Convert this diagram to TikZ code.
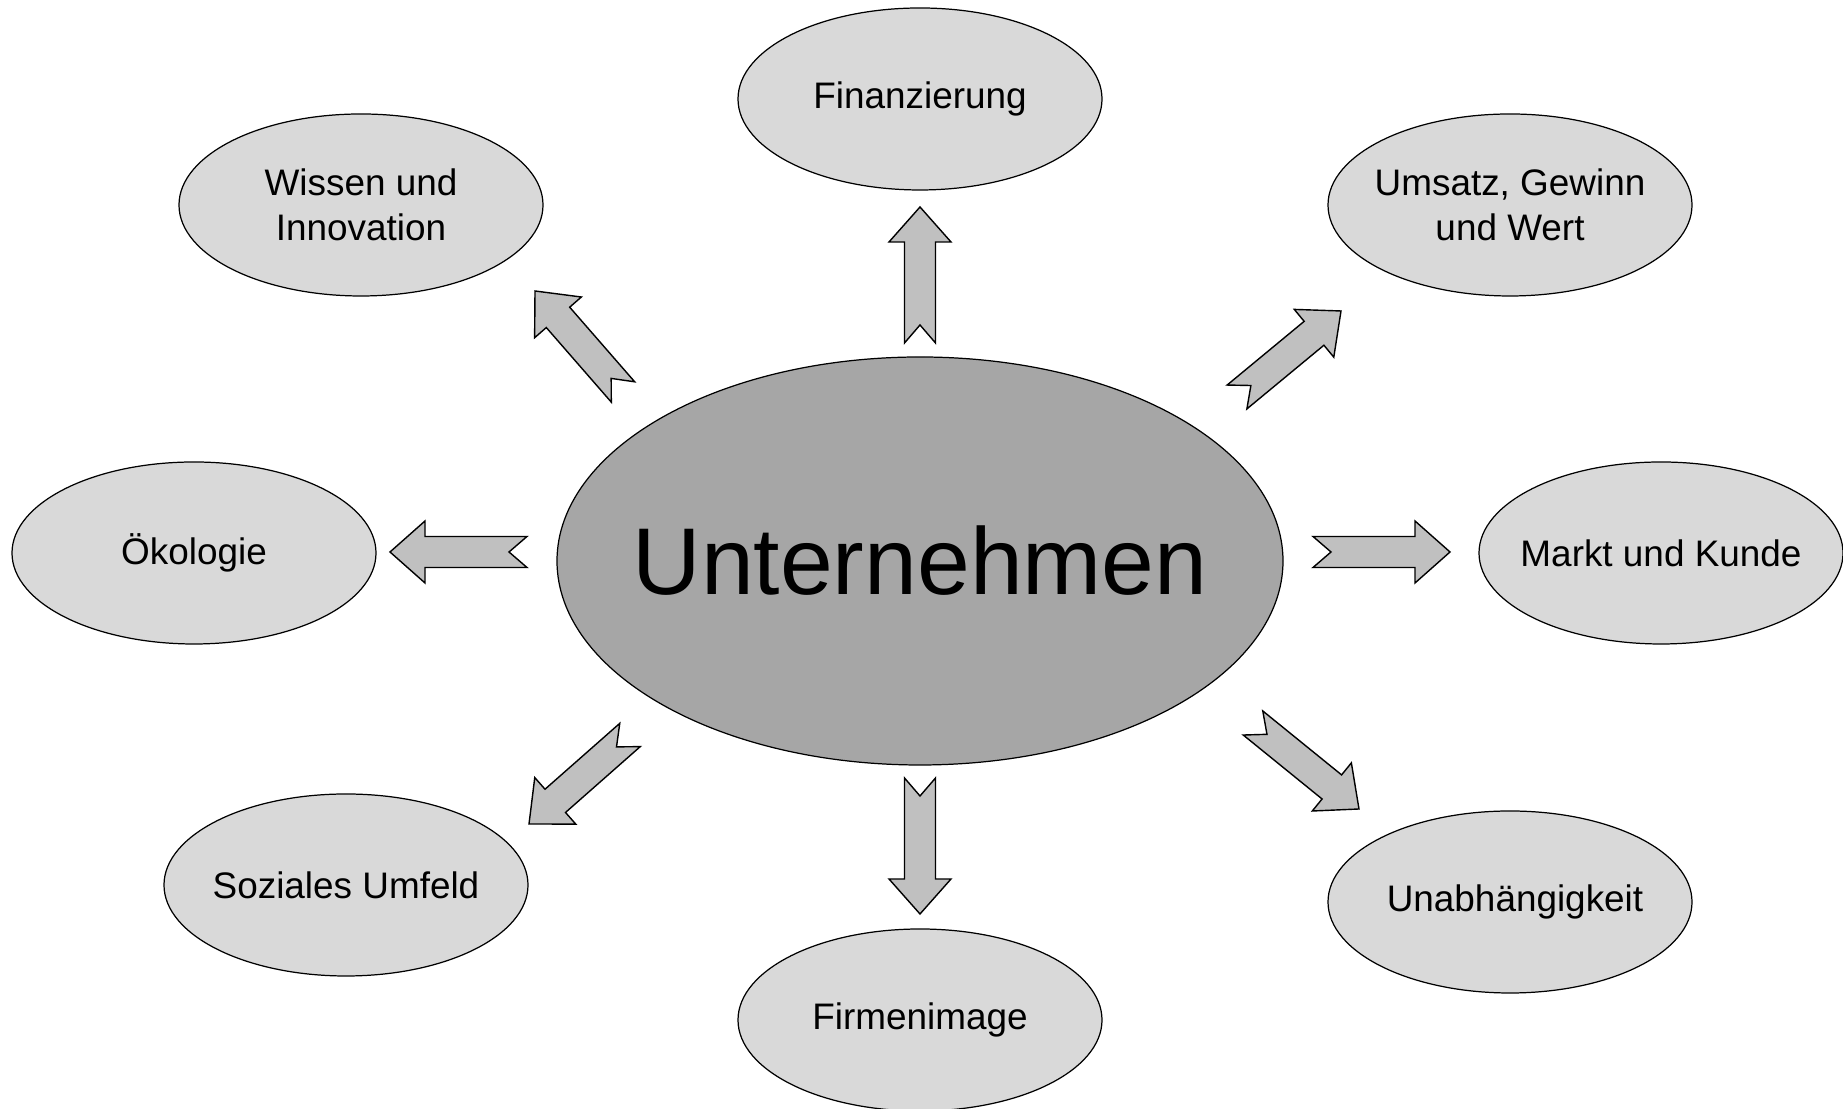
\documentclass[tikz,border=0pt]{standalone}
\usepackage{fontspec}
\setmainfont{Liberation Sans}
\usepackage{tikz}
\usetikzlibrary{calc,shapes.geometric}

\definecolor{outerfill}{HTML}{D9D9D9}
\definecolor{innerfill}{HTML}{A6A6A6}
\definecolor{arrowfill}{HTML}{C0C0C0}

\tikzset{
  goal/.style={ellipse,draw,line width=0.7pt,fill=outerfill,inner ysep=0pt,
    inner xsep=-0.8cm,minimum width=7.28cm,minimum height=3.64cm,align=center,
    font=\fontsize{21}{25.5}\selectfont},
  core/.style={ellipse,draw,line width=0.7pt,fill=innerfill,inner ysep=0pt,
    inner xsep=-2cm,minimum width=14.52cm,minimum height=8.16cm,
    font=\fontsize{54}{60}\selectfont},
  fatarrow/.style={draw,line width=0.8pt,fill=arrowfill,line join=miter}
}

% block arrow from tail #1 to tip #2
\newcommand{\blockarrow}[2]{%
  \path ($(#2)!0.7cm!(#1)$) coordinate (h);
  \draw[fatarrow] ($(#1)!0.31cm!90:(#2)$) -- ($(h)!0.31cm!90:(#2)$)
    -- ($(h)!0.62cm!90:(#2)$) -- (#2) -- ($(h)!0.62cm!-90:(#2)$)
    -- ($(h)!0.31cm!-90:(#2)$) -- ($(#1)!0.31cm!-90:(#2)$)
    -- ($(#1)!0.36cm!(#2)$) -- cycle;
}

\begin{document}
\begin{tikzpicture}
\useasboundingbox (0,0) rectangle (36.86,22.18);
\node [core] (firm) at (18.4,10.96) {Unternehmen};
\node [goal] (fin) at (18.4,20.2) {\raisebox{-0.12cm}{Finanzierung}};
\node [goal] (wis) at (7.22,18.08) {Wissen und\\Innovation};
\node [goal] (ums) at (30.2,18.08) {Umsatz, Gewinn\\und Wert};
\node [goal] (oek) at (3.88,11.12) {Ökologie};
\node [goal] (mkt) at (33.22,11.12) {Markt und Kunde};
\node [goal] (soz) at (6.92,4.48) {Soziales Umfeld};
\node [goal] (una) at (30.2,4.14) {\hspace*{0.2cm}Unabhängigkeit};
\node [goal] (img) at (18.4,1.78) {Firmenimage};

\path (18.4,15.32) coordinate (finT);  \path (18.4,18.04) coordinate (finH);
\path (18.4,6.62) coordinate (imgT);   \path (18.4,3.9) coordinate (imgH);
\path (10.54,11.14) coordinate (oekT); \path (7.8,11.14) coordinate (oekH);
\path (26.26,11.14) coordinate (mktT); \path (29.0,11.14) coordinate (mktH);
\path (12.46,14.34) coordinate (wisT); \path (10.7,16.36) coordinate (wisH);
\path (24.74,14.24) coordinate (umsT); \path (26.82,15.96) coordinate (umsH);
\path (12.6,7.48) coordinate (sozT);   \path (10.58,5.7) coordinate (sozH);
\path (25.06,7.72) coordinate (unaT);  \path (27.18,6.0) coordinate (unaH);

\blockarrow{finT}{finH}
\blockarrow{imgT}{imgH}
\blockarrow{oekT}{oekH}
\blockarrow{mktT}{mktH}
\blockarrow{wisT}{wisH}
\blockarrow{umsT}{umsH}
\blockarrow{sozT}{sozH}
\blockarrow{unaT}{unaH}
\end{tikzpicture}
\end{document}
